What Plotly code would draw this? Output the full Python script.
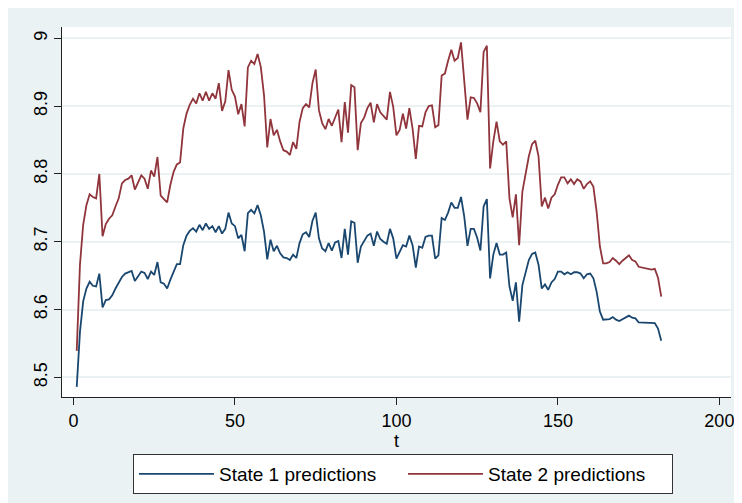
import plotly.graph_objects as go

t = list(range(1, 183))

state1 = [
    8.486, 8.567, 8.612, 8.631, 8.641, 8.635, 8.634, 8.653, 8.603, 8.614,
    8.615, 8.621, 8.631, 8.640, 8.648, 8.653, 8.655, 8.657, 8.642, 8.650,
    8.656, 8.654, 8.645, 8.656, 8.651, 8.670, 8.640, 8.638, 8.631, 8.644,
    8.657, 8.667, 8.667, 8.695, 8.709, 8.716, 8.720, 8.715, 8.725, 8.717,
    8.727, 8.719, 8.723, 8.714, 8.723, 8.712, 8.719, 8.743, 8.727, 8.723,
    8.705, 8.710, 8.686, 8.742, 8.747, 8.742, 8.754, 8.739, 8.715, 8.674,
    8.703, 8.686, 8.694, 8.683, 8.677, 8.676, 8.673, 8.681, 8.676, 8.698,
    8.711, 8.714, 8.707, 8.731, 8.743, 8.705, 8.690, 8.686, 8.698, 8.687,
    8.699, 8.701, 8.676, 8.719, 8.681, 8.730, 8.728, 8.669, 8.693, 8.701,
    8.709, 8.712, 8.694, 8.715, 8.704, 8.700, 8.697, 8.719, 8.705, 8.675,
    8.684, 8.695, 8.693, 8.709, 8.695, 8.662, 8.693, 8.691, 8.707, 8.709,
    8.709, 8.675, 8.680, 8.735, 8.732, 8.743, 8.758, 8.750, 8.750, 8.766,
    8.737, 8.694, 8.719, 8.719, 8.706, 8.687, 8.752, 8.763, 8.646, 8.681,
    8.698, 8.681, 8.681, 8.684, 8.634, 8.613, 8.640, 8.582, 8.636, 8.657,
    8.673, 8.682, 8.684, 8.666, 8.631, 8.637, 8.629, 8.640, 8.645, 8.656,
    8.656, 8.652, 8.655, 8.652, 8.655, 8.655, 8.653, 8.646, 8.652, 8.653,
    8.646, 8.626, 8.597, 8.585, 8.585, 8.586, 8.589, 8.585, 8.583, 8.586,
    8.589, 8.591, 8.588, 8.587, 8.581, 8.581, 8.581, 8.580, 8.580, 8.580,
    8.572, 8.554,
]

state2 = [
    8.539, 8.666, 8.725, 8.754, 8.770, 8.766, 8.764, 8.800, 8.708, 8.726,
    8.734, 8.739, 8.752, 8.764, 8.786, 8.791, 8.793, 8.798, 8.777, 8.789,
    8.798, 8.793, 8.778, 8.805, 8.796, 8.825, 8.768, 8.763, 8.758, 8.784,
    8.803, 8.814, 8.817, 8.867, 8.889, 8.902, 8.911, 8.904, 8.919, 8.908,
    8.921, 8.908, 8.919, 8.911, 8.934, 8.893, 8.907, 8.953, 8.924, 8.914,
    8.888, 8.903, 8.870, 8.957, 8.967, 8.962, 8.977, 8.958, 8.916, 8.839,
    8.881, 8.857, 8.865, 8.848, 8.835, 8.833, 8.828, 8.847, 8.837, 8.877,
    8.897, 8.903, 8.898, 8.934, 8.954, 8.894, 8.875, 8.866, 8.881, 8.871,
    8.883, 8.895, 8.847, 8.906, 8.861, 8.931, 8.928, 8.835, 8.875, 8.883,
    8.897, 8.905, 8.876, 8.903, 8.891, 8.885, 8.880, 8.921, 8.899, 8.857,
    8.865, 8.889, 8.867, 8.897, 8.867, 8.822, 8.871, 8.870, 8.891, 8.900,
    8.901, 8.869, 8.872, 8.945, 8.948, 8.967, 8.983, 8.967, 8.971, 8.994,
    8.941, 8.880, 8.913, 8.912, 8.904, 8.891, 8.980, 8.989, 8.808, 8.848,
    8.877, 8.848, 8.843, 8.848, 8.764, 8.736, 8.770, 8.695, 8.774, 8.803,
    8.826, 8.844, 8.849, 8.826, 8.752, 8.765, 8.749, 8.765, 8.770, 8.784,
    8.795, 8.795, 8.786, 8.792, 8.785, 8.792, 8.789, 8.778, 8.785, 8.789,
    8.781, 8.744, 8.693, 8.668, 8.668, 8.670, 8.676, 8.672, 8.667, 8.672,
    8.676, 8.680, 8.673, 8.671, 8.663, 8.662, 8.661, 8.660, 8.659, 8.660,
    8.647, 8.619,
]

x_ticks = [0, 50, 100, 150, 200]
y_ticks = [8.5, 8.6, 8.7, 8.8, 8.9, 9.0]
y_tick_labels = ["8.5", "8.6", "8.7", "8.8", "8.9", "9"]

FONT = "Liberation Sans, Arial, sans-serif"
BG = "#EAF2F3"

fig = go.Figure()
fig.add_trace(go.Scatter(x=t, y=state1, mode="lines", name="State 1 predictions",
                         line=dict(color="#1A476F", width=1.8)))
fig.add_trace(go.Scatter(x=t, y=state2, mode="lines", name="State 2 predictions",
                         line=dict(color="#90353B", width=1.8)))

fig.update_layout(
    width=734, height=495,
    margin=dict(l=54, r=11, t=19, b=106, autoexpand=False),
    paper_bgcolor=BG,
    plot_bgcolor="white",
    font=dict(family=FONT, size=18, color="black"),
    showlegend=True,
    legend=dict(
        orientation="h", x=0.1061, xanchor="left", y=-0.154, yanchor="top",
        bgcolor="white", bordercolor="#333333", borderwidth=1,
        font=dict(family=FONT, size=19, color="black"),
        itemwidth=75, entrywidth=179, entrywidthmode="pixels",
        tracegroupgap=0,
    ),
    xaxis=dict(
        range=[-3.56, 203.6], tickvals=x_ticks, showgrid=False, zeroline=False,
        showline=True, linecolor="#222222", linewidth=1, automargin=False,
        ticks="outside", ticklen=7, tickcolor="#222222", ticklabelstandoff=0,
        ticklabeloverflow="allow",
        title=dict(text="t", standoff=0, font=dict(size=18)),
    ),
    yaxis=dict(
        range=[8.471, 9.0167], tickvals=y_ticks, ticktext=y_tick_labels,
        tickangle=-90, showgrid=True, gridcolor=BG, gridwidth=2, zeroline=False,
        showline=True, linecolor="#222222", linewidth=1, automargin=False,
        ticks="outside", ticklen=7, tickcolor="#222222",
    ),
)

fig.write_html("out.html")
